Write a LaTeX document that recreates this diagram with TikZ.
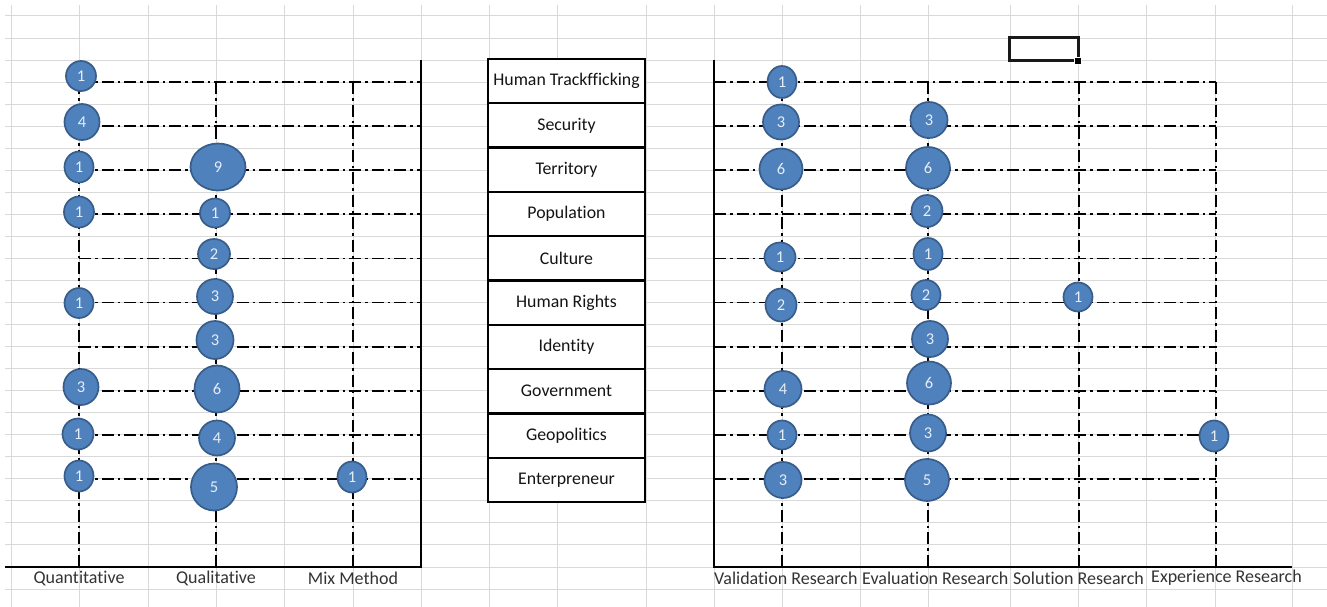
\documentclass[tikz,border=0pt]{standalone}
\usepackage{fontspec}
\setmainfont{Carlito}[Ligatures=NoCommon]
\usetikzlibrary{shapes.geometric}
\definecolor{gridc}{HTML}{D9D9D9}
\definecolor{bubfill}{HTML}{4F81BD}
\definecolor{bubdraw}{HTML}{385D8A}
\definecolor{labc}{HTML}{333333}
\definecolor{numc}{HTML}{E6EDF6}
\newcommand\bub[6]{\node[bubble, minimum width=#4pt, minimum height=#5pt] (#1) at (#2,#3) {#6};}
\begin{document}
\begin{tikzpicture}[x=1pt,y=-1pt,
  gridline/.style={gridc, line width=1pt},
  chartline/.style={black, line width=1.8pt, dash pattern=on 12pt off 4pt on 2.5pt off 4pt},
  axisline/.style={black, line width=1.7pt},
  bubble/.style={ellipse, fill=bubfill, draw=bubdraw, line width=1.7pt, inner sep=0pt, text=numc, font=\fontsize{16.5}{16.5}\selectfont},
  cell/.style={draw=black, line width=2.3pt, fill=white, minimum width=157pt, minimum height=44.3pt, inner sep=0pt, font=\fontsize{17.8}{17.8}\selectfont, text=black!92},
  axlabel/.style={inner sep=0pt, font=\fontsize{18}{18}\selectfont, text=labc}]
\useasboundingbox (0,0) rectangle (1327,607);
\fill[white] (0,0) rectangle (1327,607);
% spreadsheet grid
\foreach \k in {0,...,26} \draw[gridline] (5,{16+22.04*\k}) -- (1327,{16+22.04*\k});
\foreach \gx in {11,79,148,216,284,353,421,489,557,646,714,782,860,928,1010,1078,1146,1215,1292}
  \draw[gridline] (\gx,5) -- (\gx,607);
% table
\foreach \k/\t in {0/Human Trackfficking,1/Security,2/Territory,3/Population,4/Culture,5/Human Rights,6/Identity,7/Government,8/Geopolitics,9/Enterpreneur}
  \node[cell] (t\k) at (566.5,{59+44.3*\k+22.15}) {\t};
% row coordinates
\foreach \k in {0,...,9} {
  \coordinate (la\k) at (79,{16+22.04*(3+2*\k)});
  \coordinate (lb\k) at (421,{16+22.04*(3+2*\k)});
  \coordinate (ra\k) at (714,{16+22.04*(3+2*\k)});
  \coordinate (rb\k) at (1216,{16+22.04*(3+2*\k)});
}
\foreach \k in {0,...,9} {
  \draw[chartline] (la\k) -- (lb\k);
  \draw[chartline] (ra\k) -- (rb\k);
}
% vertical series lines
\foreach \n/\vx in {qn/79,ql/216,mm/353,va/782,ev/928,so/1079,ex/1216} {
  \coordinate (\n t) at (\vx,82.12);
  \coordinate (\n b) at (\vx,567);
}
\foreach \n in {qn,ql,mm,va,ev,so,ex} \draw[chartline] (\n t) -- (\n b);
% axes
\coordinate (lax0) at (5,567);
\coordinate (lax1) at (421,567);
\coordinate (lax2) at (421,60);
\draw[axisline] (lax0) -- (lax1) -- (lax2);
\coordinate (rax0) at (714,60);
\coordinate (rax1) at (714,567);
\coordinate (rax2) at (1292,567);
\draw[axisline] (rax0) -- (rax1) -- (rax2);
% bubbles: left chart
\bub{q0}{81}{76}{30}{30}{1}
\bub{q1}{82}{122}{35}{36}{4}
\bub{q2}{79}{167}{29}{31}{1}
\bub{q3}{79}{212}{30}{31}{1}
\bub{q5}{79}{303}{29}{30}{1}
\bub{q7}{81}{387}{35}{36}{3}
\bub{q8}{78}{434}{31}{31}{1}
\bub{q9}{79}{476}{29}{31}{1}
\bub{l2}{218}{167}{55}{47}{9}
\bub{l3}{215}{213}{30}{29}{1}
\bub{l4}{214}{254}{32}{30}{2}
\bub{l5}{215}{296.5}{36}{35}{3}
\bub{l6}{215}{340}{37}{38}{3}
\bub{l7}{217}{389}{45}{47}{6}
\bub{l8}{217}{438}{36}{35}{4}
\bub{l9}{214}{487}{46}{47}{5}
\bub{m9}{352}{477}{29}{31}{1}
% bubbles: right chart
\bub{v0}{782}{82}{29}{32}{1}
\bub{v1}{781}{122}{36}{35}{3}
\bub{v2}{781}{169}{43}{41}{6}
\bub{v4}{780}{257}{31}{29}{1}
\bub{v5}{781}{305}{31}{33}{2}
\bub{v7}{783}{389}{37}{36}{4}
\bub{v8}{782}{435}{29}{29}{1}
\bub{v9}{783}{480}{37}{36}{3}
\bub{e1}{929}{120}{37}{36}{3}
\bub{e2}{928}{168}{44}{42}{6}
\bub{e3}{927}{211}{31}{32}{2}
\bub{e4}{928}{254}{29}{32}{1}
\bub{e5}{926}{295}{29}{30}{2}
\bub{e6}{930}{339}{36}{36}{3}
\bub{e7}{929}{383}{44}{43}{6}
\bub{e8}{928}{433}{36}{37}{3}
\bub{e9}{927}{480}{44}{42}{5}
\bub{s5}{1078}{297}{29}{29}{1}
\bub{x8}{1214}{436}{29}{31}{1}
% axis labels
\node[axlabel] (lq) at (79,578) {Quantitative};
\node[axlabel] (ll) at (216,578) {Qualitative};
\node[axlabel] (lm) at (353,578) {Mix Method};
\begin{scope}
  \clip (714,565) rectangle (859,595);
  \node[axlabel, anchor=west] (lva) at (714,578) {Validation Research};
\end{scope}
\begin{scope}
  \clip (861,565) rectangle (1008,595);
  \node[axlabel, anchor=west] (lev) at (862,578) {Evaluation Research};
\end{scope}
\node[axlabel, anchor=west] (lso) at (1013,578) {Solution Research};
\node[axlabel, anchor=west] (lex) at (1151,578) {Experience Research};
% selected cell
\node[draw=black!90, line width=3pt, minimum width=69pt, minimum height=23pt, inner sep=0pt] (sel) at (1043.5,49.5) {};
\node[fill=black, draw=white, line width=0.8pt, minimum size=7pt, inner sep=0pt] (selh) at (1078,60.5) {};
\end{tikzpicture}
\end{document}
